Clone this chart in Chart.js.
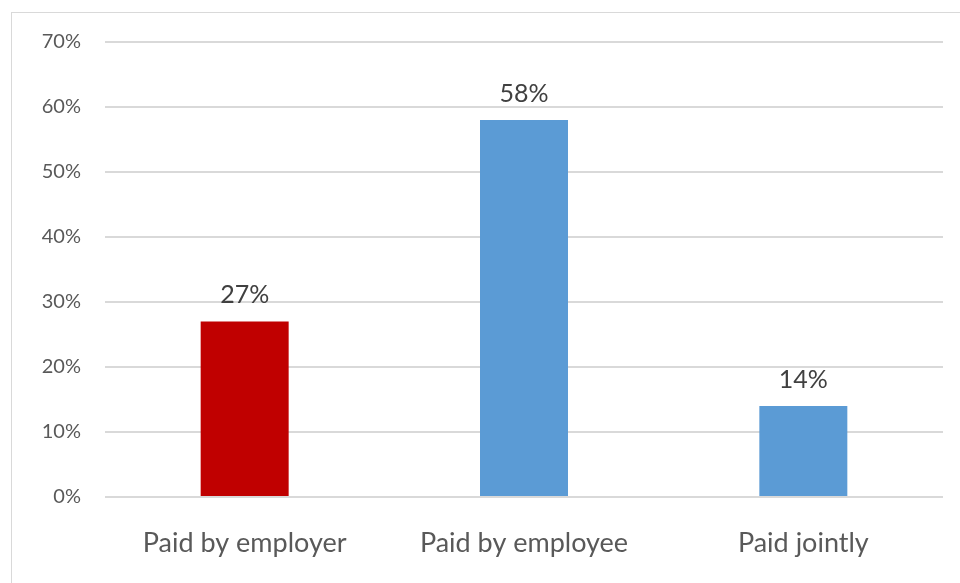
<!DOCTYPE html>
<html>
<head>
<meta charset="utf-8">
<script src="https://cdn.jsdelivr.net/npm/chart.js@4"></script>
<style>
  html, body { margin: 0; padding: 0; background: #fff; }
  #wrap { position: relative; width: 960px; height: 583px; overflow: hidden; }
  #frame { position: absolute; left: 11px; top: 12px; width: 1000px; height: 700px; border: 1px solid #d9d9d9; box-sizing: border-box; }
  canvas { position: absolute; left: 0; top: 0; }
</style>
</head>
<body>
<div id="wrap">
  <div id="frame"></div>
  <canvas id="chart" width="960" height="583"></canvas>
</div>
<script>
// Data
const categories = ['Paid by employer', 'Paid by employee', 'Paid jointly'];
const values = [27, 58, 14];
const barColors = ['#c00000', '#5b9bd5', '#5b9bd5'];
const yTicks = [0, 10, 20, 30, 40, 50, 60, 70];

const FONT = 'Lato, "Open Sans", sans-serif';

// Draw value labels above each bar
const valueLabels = {
  id: 'valueLabels',
  afterDatasetsDraw(chart) {
    const ctx = chart.ctx;
    const meta = chart.getDatasetMeta(0);
    ctx.save();
    ctx.font = '25px ' + FONT;
    ctx.fillStyle = '#404040';
    ctx.textAlign = 'center';
    ctx.textBaseline = 'bottom';
    meta.data.forEach((bar, i) => {
      ctx.fillText(values[i] + '%', bar.x, bar.y - 14);
    });
    ctx.restore();
  }
};

const ctx = document.getElementById('chart').getContext('2d');
new Chart(ctx, {
  type: 'bar',
  data: {
    labels: categories,
    datasets: [{
      data: values,
      backgroundColor: barColors,
      borderWidth: 0,
      categoryPercentage: 1,
      barPercentage: 0.315
    }]
  },
  options: {
    responsive: false,
    animation: false,
    layout: { padding: { left: 0, right: 17, top: 42, bottom: 0 } },
    plugins: {
      legend: { display: false },
      tooltip: { enabled: false }
    },
    scales: {
      x: {
        grid: { display: false },
        border: { display: false },
        ticks: {
          color: '#595959',
          font: { family: FONT, size: 27 },
          padding: 22,
          maxRotation: 0
        },
        afterFit(scale) { scale.height = 86; }
      },
      y: {
        min: 0,
        max: 70,
        afterBuildTicks(scale) { scale.ticks = yTicks.map(v => ({ value: v })); },
        grid: { color: '#d9d9d9', lineWidth: 2, drawTicks: false },
        border: { display: false },
        ticks: {
          color: '#595959',
          font: { family: FONT, size: 20 },
          padding: 24,
          callback: v => v + '%'
        },
        afterFit(scale) { scale.width = 105; }
      }
    }
  },
  plugins: [valueLabels]
});
</script>
</body>
</html>
